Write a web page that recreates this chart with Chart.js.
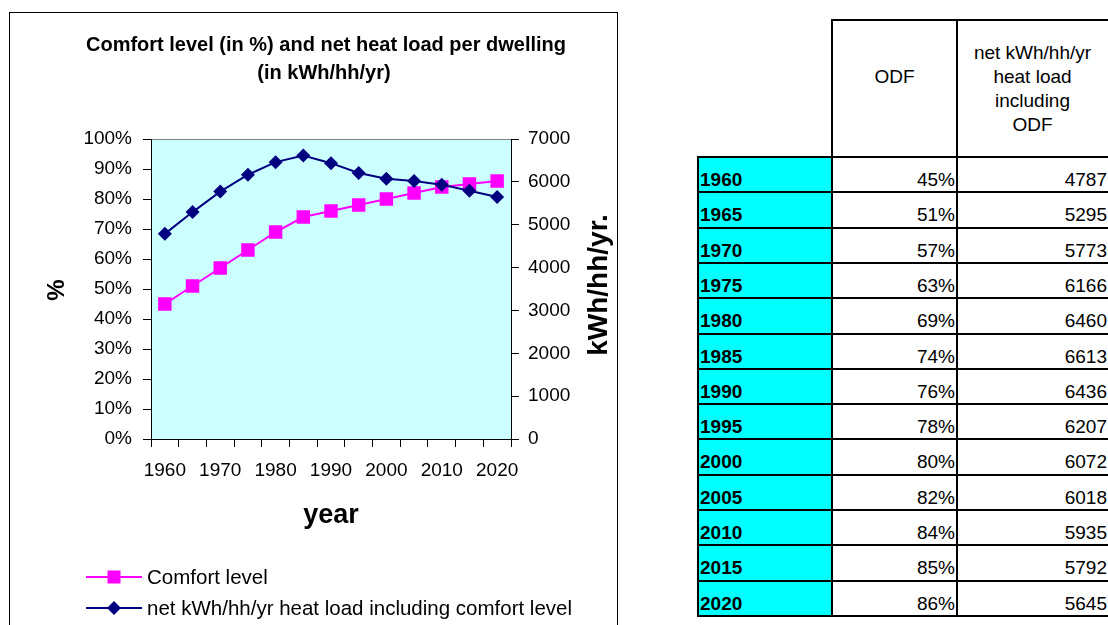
<!DOCTYPE html>
<html><head><meta charset="utf-8">
<script src="https://cdn.jsdelivr.net/npm/chart.js@4.4.1/dist/chart.umd.min.js"></script>
<style>
html,body{margin:0;padding:0;background:#fff;width:1108px;height:625px;overflow:hidden;font-family:"Liberation Sans",Arial,sans-serif;}
#frame{position:absolute;left:9px;top:12px;width:607px;height:700px;border:1px solid #000;}
#wrap{position:absolute;left:10px;top:13px;width:606px;height:612px;}
.cell{position:absolute;box-sizing:border-box;border:2px solid #000;}
.txt{position:absolute;font-size:19px;line-height:22px;color:#000;white-space:nowrap;}
</style></head><body>
<div id="frame"></div>
<div id="wrap"><canvas id="c"></canvas></div>
<div id="table"></div>
<script>
const years = ['1960','1965','1970','1975','1980','1985','1990','1995','2000','2005','2010','2015','2020'];
const comfortLevel = [45,51,57,63,69,74,76,78,80,82,84,85,86];
const heatLoad = [4787,5295,5773,6166,6460,6613,6436,6207,6072,6018,5935,5792,5645];
const titleLines = ['Comfort level (in %) and net heat load per dwelling','(in kWh/hh/yr)'];
const seriesNames = ['Comfort level','net kWh/hh/yr heat load including comfort level'];
const leftAxisTitle = '%';
const rightAxisTitle = 'kWh/hh/yr.';
const xAxisTitle = 'year';
const tableHeader2 = ['ODF'];
const tableHeader3 = ['net kWh/hh/yr','heat load','including','ODF'];

const FONT = '"Liberation Sans", Arial, sans-serif';
Chart.defaults.font.family = FONT;
Chart.defaults.color = '#000';

const PINK = '#FF00FF', NAVY = '#000080';

const decor = {
  id: 'decor',
  beforeDraw(chart) {
    const {ctx, chartArea: a} = chart;
    ctx.save();
    ctx.fillStyle = '#CCFFFF';
    ctx.fillRect(a.left, a.top, a.right - a.left, a.bottom - a.top);
    ctx.strokeStyle = '#808080';
    ctx.lineWidth = 1;
    ctx.beginPath();
    ctx.moveTo(a.left, a.top + 0.5);
    ctx.lineTo(a.right, a.top + 0.5);
    ctx.stroke();
    ctx.restore();
  },
  afterDraw(chart) {
    const ctx = chart.ctx;
    ctx.save();
    ctx.fillStyle = '#000';
    ctx.textAlign = 'center';
    ctx.textBaseline = 'middle';
    ctx.font = 'bold 20px ' + FONT;
    ctx.fillText(titleLines[0], 316, 32);
    ctx.fillText(titleLines[1], 314, 60);
    // axis titles
    ctx.font = 'bold 24px ' + FONT;
    ctx.save(); ctx.translate(47, 277); ctx.rotate(-Math.PI / 2); ctx.fillText(leftAxisTitle, 0, 0); ctx.restore();
    ctx.font = 'bold 28px ' + FONT;
    ctx.save(); ctx.translate(589, 272); ctx.rotate(-Math.PI / 2); ctx.fillText(rightAxisTitle, 0, 0); ctx.restore();
    ctx.font = 'bold 27px ' + FONT;
    ctx.fillText(xAxisTitle, 321, 503);
    // legend
    const items = [
      {y: 564, color: PINK, shape: 'rect', name: seriesNames[0]},
      {y: 595, color: NAVY, shape: 'diamond', name: seriesNames[1]}
    ];
    ctx.font = '20.5px ' + FONT;
    ctx.textAlign = 'left';
    items.forEach(it => {
      ctx.strokeStyle = it.color;
      ctx.lineWidth = 2;
      ctx.beginPath(); ctx.moveTo(76, it.y); ctx.lineTo(132, it.y); ctx.stroke();
      ctx.fillStyle = it.color;
      if (it.shape === 'rect') {
        ctx.fillRect(104 - 6.5, it.y - 6.5, 13, 13);
      } else {
        ctx.beginPath();
        ctx.moveTo(104, it.y - 7); ctx.lineTo(111, it.y); ctx.lineTo(104, it.y + 7); ctx.lineTo(97, it.y);
        ctx.closePath(); ctx.fill();
      }
      ctx.fillStyle = '#000';
      ctx.fillText(it.name, 137, it.y + 1);
    });
    ctx.restore();
  }
};

new Chart(document.getElementById('c'), {
  type: 'line',
  data: {
    labels: years,
    datasets: [
      {label: seriesNames[0], data: comfortLevel, yAxisID: 'y', borderColor: PINK, backgroundColor: PINK,
       borderWidth: 2, pointStyle: 'rect', pointRadius: 9.5, pointHoverRadius: 9.5, pointBorderWidth: 0, tension: 0, order: 1},
      {label: seriesNames[1], data: heatLoad, yAxisID: 'y1', borderColor: NAVY, backgroundColor: NAVY,
       borderWidth: 2, pointStyle: 'rectRot', pointRadius: 7, pointHoverRadius: 7, pointBorderWidth: 0, tension: 0, order: 0}
    ]
  },
  options: {
    responsive: true, maintainAspectRatio: false, animation: false,
    layout: {padding: {top: 126, bottom: 126, left: 0, right: 0}},
    plugins: {legend: {display: false}, title: {display: false}, tooltip: {enabled: false}},
    scales: {
      x: {
        type: 'category', offset: true,
        grid: {drawOnChartArea: false, offset: true, tickLength: 8, color: '#000'},
        border: {color: '#000', width: 1},
        ticks: {font: {size: 19}, color: '#000', padding: 12, maxRotation: 0, autoSkip: false,
                callback: function(v, i) { return i % 2 === 0 ? this.getLabelForValue(v) : ''; }},
        afterFit: s => { s.height = 60; }
      },
      y: {
        position: 'left', min: 0, max: 100,
        grid: {drawOnChartArea: false, tickLength: 8, color: '#000'},
        border: {color: '#000', width: 1},
        ticks: {stepSize: 10, font: {size: 19}, color: '#000', padding: 11, callback: v => v + '%'},
        afterFit: s => { s.width = 141; }
      },
      y1: {
        position: 'right', min: 0, max: 7000,
        grid: {drawOnChartArea: false, tickLength: 8, color: '#000'},
        border: {color: '#000', width: 1},
        ticks: {stepSize: 1000, font: {size: 19}, color: '#000', padding: 9, callback: v => String(v)},
        afterFit: s => { s.width = 105; }
      }
    }
  },
  plugins: [decor]
});

// table
const colX = [698, 832, 957, 1110];
const headTop = 20, headBot = 157, rowH = 35.3;
const tbl = document.getElementById('table');
function cell(x0, y0, x1, y1, bg) {
  const d = document.createElement('div');
  d.className = 'cell';
  d.style.left = (x0 - 1) + 'px';
  d.style.top = (y0 - 1) + 'px';
  d.style.width = (x1 - x0 + 2) + 'px';
  d.style.height = (y1 - y0 + 2) + 'px';
  d.style.background = bg;
  tbl.appendChild(d);
  return d;
}
function txt(parent, text, opts) {
  const s = document.createElement('div');
  s.className = 'txt';
  s.textContent = text;
  Object.assign(s.style, opts);
  parent.appendChild(s);
  return s;
}
// header
const h2 = cell(colX[1], headTop, colX[2], headBot, '#fff');
txt(h2, tableHeader2[0], {left: '0', right: '0', textAlign: 'center', top: (77 - headTop - 1 - 11) + 'px'});
const h3 = cell(colX[2], headTop, colX[3], headBot, '#fff');
tableHeader3.forEach((line, i) => {
  txt(h3, line, {left: '0', textAlign: 'center', top: (53 + i * 24 - headTop - 1 - 11) + 'px', width: (1108 - colX[2] - 2) + 'px'});
});
years.forEach((yr, i) => {
  const y0 = Math.round(headBot + i * rowH), y1 = Math.round(headBot + (i + 1) * rowH);
  const c1 = cell(colX[0], y0, colX[1], y1, '#00FFFF');
  txt(c1, yr, {left: '1px', top: '11px', fontWeight: 'bold'});
  const c2 = cell(colX[1], y0, colX[2], y1, '#fff');
  txt(c2, comfortLevel[i] + '%', {right: '1px', top: '11px'});
  const c3 = cell(colX[2], y0, colX[3], y1, '#fff');
  txt(c3, String(heatLoad[i]), {right: '2px', top: '11px'});
});
</script>
</body></html>
